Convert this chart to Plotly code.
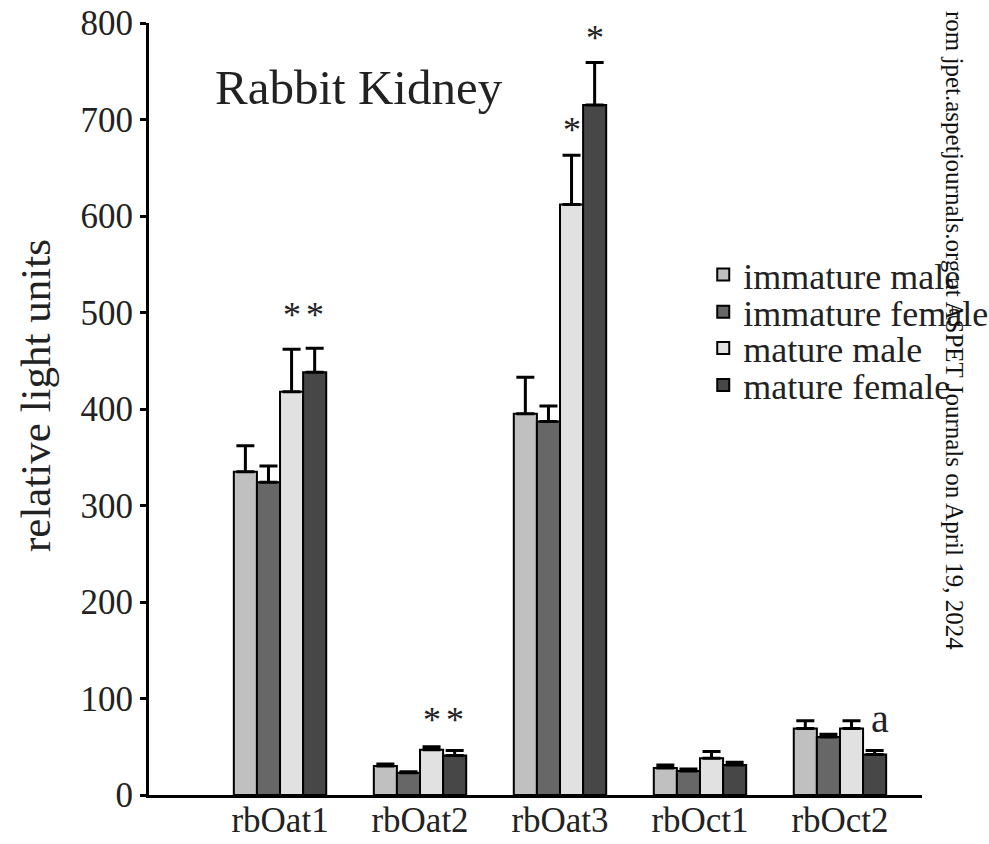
import plotly.graph_objects as go

categories = ["rbOat1", "rbOat2", "rbOat3", "rbOct1", "rbOct2"]
series_names = ["immature male", "immature female", "mature male", "mature female"]

immature_male = [335, 30, 395, 28, 69]
immature_female = [324, 23, 387, 25, 60]
mature_male = [418, 47, 612, 38, 69]
mature_female = [438, 41, 715, 31, 42]

immature_male_err = [27, 2, 38, 3, 8]
immature_female_err = [17, 1, 16, 2, 3]
mature_male_err = [44, 3, 51, 7, 8]
mature_female_err = [25, 5, 44, 3, 4]

colors = ["#c0c0c0", "#676767", "#e1e1e1", "#474747"]

# significance marks: (category index, series index, label, y level)
mark_cat = [0, 0, 1, 1, 2, 2, 4]
mark_series = [2, 3, 2, 3, 2, 3, 3]
mark_text = ["*", "*", "*", "*", "*", "*", "a"]
mark_y = [497, 497, 78, 78, 689, 784, 79]

values = [immature_male, immature_female, mature_male, mature_female]
errors = [immature_male_err, immature_female_err, mature_male_err, mature_female_err]

FONT = "Liberation Serif, Times New Roman, serif"
bargap = 0.34
n_series = len(series_names)
bar_w = (1 - bargap) / n_series

legend_ids = ["legend", "legend2", "legend3", "legend4"]
legend_rows = [0.674, 0.626, 0.579, 0.531]

fig = go.Figure()
xs = list(range(len(categories)))
for name, vals, errs, col, lg in zip(series_names, values, errors, colors, legend_ids):
    fig.add_trace(go.Bar(
        x=xs, y=vals, name=name, legend=lg,
        marker=dict(color=col, line=dict(color="black", width=2)),
        error_y=dict(type="data", array=errs, arrayminus=[0] * len(errs),
                     symmetric=False, color="black", thickness=3, width=9),
    ))

for ci, si, t, yv in zip(mark_cat, mark_series, mark_text, mark_y):
    fig.add_annotation(
        x=ci + (si - (n_series - 1) / 2) * bar_w + (0.04 if t == "a" else 0),
        y=yv, xref="x", yref="y", text=t, showarrow=False,
        font=dict(family=FONT, size=40 if t == "a" else 36, color="#222"),
        xanchor="center", yanchor="middle",
    )

fig.add_annotation(
    x=0.083, y=0.916, xref="paper", yref="paper", text="Rabbit Kidney",
    showarrow=False, xanchor="left", yanchor="middle",
    font=dict(family=FONT, size=49, color="#222"),
)

# y-axis title
fig.add_annotation(
    x=-0.146, y=0.517, xref="paper", yref="paper", text="relative light units",
    showarrow=False, textangle=-90, xanchor="center", yanchor="middle",
    font=dict(family=FONT, size=43, color="#222"),
)

fig.add_annotation(
    x=1.043, y=0.602, xref="paper", yref="paper",
    text="rom jpet.aspetjournals.org at ASPET Journals on April 19, 2024",
    showarrow=False, textangle=90, xanchor="center", yanchor="middle",
    font=dict(family=FONT, size=25, color="#111"),
)

legend_style = dict(
    x=0.717, xanchor="left", yanchor="middle",
    bgcolor="rgba(0,0,0,0)", font=dict(family=FONT, size=36, color="#222"),
    itemwidth=30,
)
layout_legends = {lg: dict(y=ry, **legend_style) for lg, ry in zip(legend_ids, legend_rows)}

fig.update_layout(
    width=1010, height=844,
    margin=dict(l=149, r=88, t=23, b=49),
    plot_bgcolor="white", paper_bgcolor="white",
    barmode="group", bargap=bargap, bargroupgap=0,
    font=dict(family=FONT, color="#222"),
    showlegend=True,
    **layout_legends,
)

fig.update_xaxes(
    range=[-0.936, 4.586], tickvals=xs, ticktext=categories,
    showline=True, linecolor="black", linewidth=3, ticks="",
    showgrid=False, zeroline=False, automargin=False,
    ticklabelstandoff=-8,
    tickfont=dict(family=FONT, size=35, color="#222"),
)
fig.update_yaxes(
    range=[0, 800], tickvals=[0, 100, 200, 300, 400, 500, 600, 700, 800],
    showline=True, linecolor="black", linewidth=3,
    ticks="outside", ticklen=6, tickwidth=3, tickcolor="black",
    showgrid=False, zeroline=False, automargin=False,
    ticklabeloverflow="allow",
    tickfont=dict(family=FONT, size=35, color="#222"),
)

fig.write_html("out.html", config={"displayModeBar": False},
               post_script="document.body.style.margin='0';")
